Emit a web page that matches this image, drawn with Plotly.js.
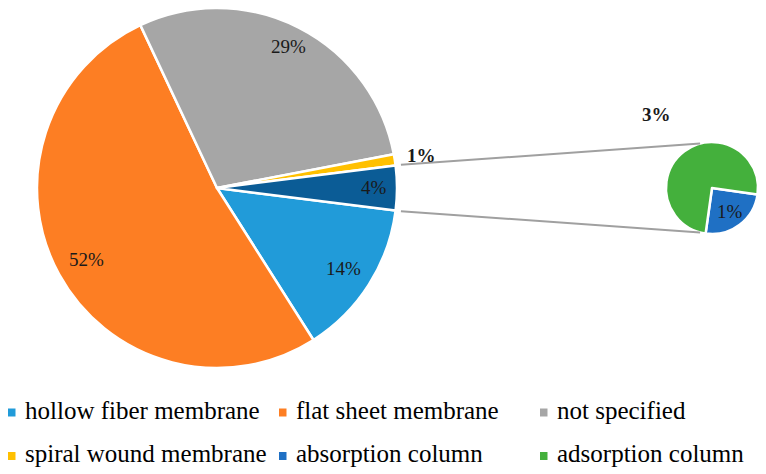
<!DOCTYPE html>
<html>
<head>
<meta charset="utf-8">
<script src="https://cdn.plot.ly/plotly-3.0.1.min.js"></script>
<style>html,body{margin:0;padding:0;background:#fff;}#chart{width:766px;height:474px;}</style>
</head>
<body>
<div id="chart"></div>
<script>
// ---- data (values are percentages of all studies) ----
const legendCategories = ['hollow fiber membrane', 'flat sheet membrane', 'not specified',
                          'spiral wound membrane', 'absorption column', 'adsorption column'];
const mainLabels = ['hollow fiber membrane', 'flat sheet membrane', 'not specified',
                    'spiral wound membrane', 'other (columns)'];
const mainValues = [14, 52, 29, 1, 4];
const subLabels = ['absorption column', 'adsorption column'];
const subValues = [1, 3];

// ---- styles ----
const mainColors = ['#219bd9', '#fd7e23', '#a6a6a6', '#ffc000', '#0b5c96'];
const subColors = ['#1f70c4', '#44b03c'];
const legendColors = ['#219bd9', '#fd7e23', '#a6a6a6', '#ffc000', '#1f70c4', '#44b03c'];
const mainLabelRadius = [0.83, 0.83, 0.88, 1.15, 0.87];
const mainLabelBold = [false, false, false, true, false];
const subLabelRadius = [0.65, 2.0];
const subLabelBold = [false, true];

const W = 766, H = 474;
const mainGeo = {cx: 217, cy: 188, r: 180, rotation: 97.2};
const subGeo = {cx: 712, cy: 188, r: 46, rotation: 98};
const FONT = 'Liberation Serif';

function domainOf(g) {
  return {
    x: [(g.cx - g.r) / W, (g.cx + g.r) / W],
    y: [1 - (g.cy + g.r) / H, 1 - (g.cy - g.r) / H]
  };
}
function pt(g, angDeg, f) { // angle clockwise from 12 o'clock
  const a = angDeg * Math.PI / 180;
  return {x: (g.cx + f * g.r * Math.sin(a)) / W, y: 1 - (g.cy - f * g.r * Math.cos(a)) / H};
}

const traces = [
  {
    type: 'pie', labels: mainLabels, values: mainValues, sort: false,
    direction: 'clockwise', rotation: mainGeo.rotation, domain: domainOf(mainGeo),
    marker: {colors: mainColors, line: {color: '#ffffff', width: 2.5}},
    textinfo: 'none', hoverinfo: 'label+value', showlegend: false
  },
  {
    type: 'pie', labels: subLabels, values: subValues, sort: false,
    direction: 'clockwise', rotation: subGeo.rotation, domain: domainOf(subGeo),
    marker: {colors: subColors, line: {color: '#ffffff', width: 2.5}},
    textinfo: 'none', hoverinfo: 'label+value', showlegend: false
  }
];

const annotations = [];
const shapes = [];

function addLabels(values, g, radii, bolds) {
  const total = values.reduce((a, b) => a + b, 0);
  let cum = 0;
  const edges = [];
  values.forEach((v, i) => {
    const start = g.rotation + cum / total * 360;
    const mid = g.rotation + (cum + v / 2) / total * 360;
    cum += v;
    const end = g.rotation + cum / total * 360;
    edges.push([start, end]);
    const p = pt(g, mid, radii[i]);
    const txt = v + '%';
    annotations.push({
      xref: 'paper', yref: 'paper', x: p.x, y: p.y, xanchor: 'center', yanchor: 'middle',
      text: bolds[i] ? '<b>' + txt + '</b>' : txt, showarrow: false,
      font: {family: FONT, size: 19, color: '#1a1a1a'}
    });
  });
  return edges;
}
const mainEdges = addLabels(mainValues, mainGeo, mainLabelRadius, mainLabelBold);
addLabels(subValues, subGeo, subLabelRadius, subLabelBold);

// connector lines from the "other" slice to the secondary pie
const otherEdge = mainEdges[mainEdges.length - 1];
const p1 = pt(mainGeo, otherEdge[0], 1.03), p2 = pt(mainGeo, otherEdge[1], 1.03);
const q1 = pt(subGeo, -15, 1.0), q2 = pt(subGeo, 195, 1.0);
[[p1, q1], [p2, q2]].forEach(([a, b]) => {
  shapes.push({type: 'line', xref: 'paper', yref: 'paper', x0: a.x, y0: a.y, x1: b.x, y1: b.y,
               line: {color: '#a0a0a0', width: 2}});
});

// manual legend (3 columns x 2 rows)
const colX = [8, 279, 540];
const rowY = [412.5, 456];
legendCategories.forEach((name, i) => {
  const c = i % 3, r = Math.floor(i / 3);
  const x0 = colX[c], yc = rowY[r];
  shapes.push({type: 'rect', xref: 'paper', yref: 'paper',
               x0: x0 / W, x1: (x0 + 7.5) / W, y0: 1 - (yc + 4) / H, y1: 1 - (yc - 4) / H,
               fillcolor: legendColors[i], line: {width: 0}});
  annotations.push({xref: 'paper', yref: 'paper', x: (x0 + 15) / W, y: 1 - (yc - 2.5) / H,
                    xanchor: 'left', yanchor: 'middle', text: name, showarrow: false,
                    font: {family: FONT, size: 25, color: '#000000'}});
});

const layout = {
  width: W, height: H, margin: {l: 0, r: 0, t: 0, b: 0},
  paper_bgcolor: '#ffffff', plot_bgcolor: '#ffffff',
  showlegend: false, annotations: annotations, shapes: shapes
};
Plotly.newPlot('chart', traces, layout, {displayModeBar: false, staticPlot: true});
</script>
</body>
</html>
